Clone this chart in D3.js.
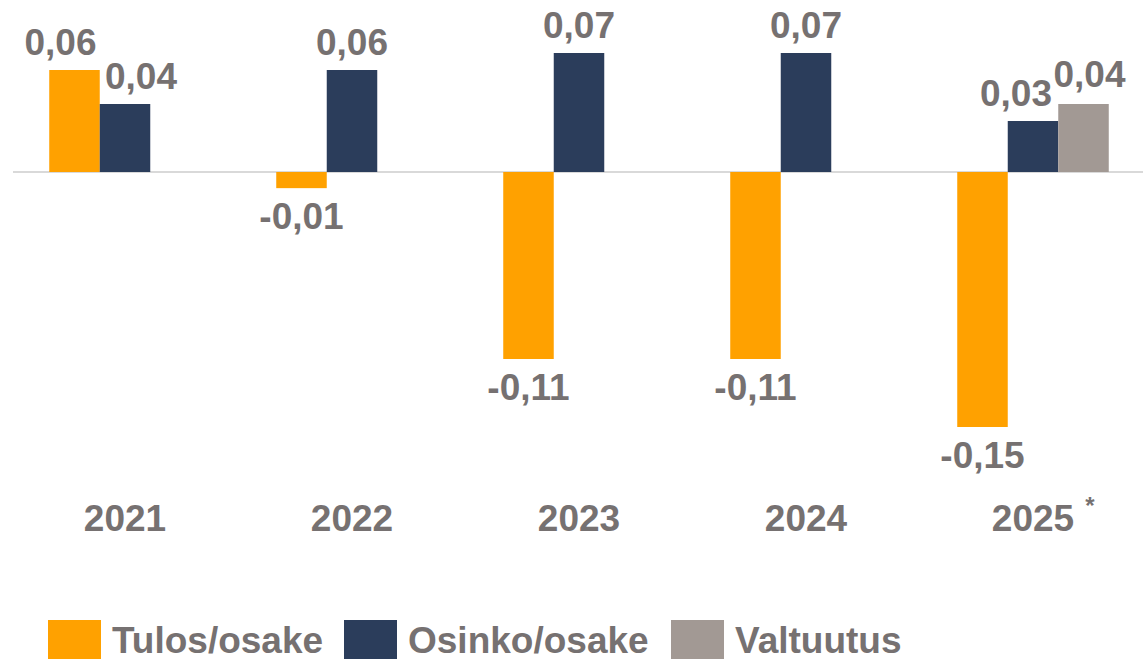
<!DOCTYPE html>
<html>
<head>
<meta charset="utf-8">
<script src="https://cdn.jsdelivr.net/npm/d3@7"></script>
<style>
  html, body { margin: 0; padding: 0; background: #ffffff; }
  #chart { width: 1143px; height: 659px; }
  text { font-family: "Liberation Sans", Arial, sans-serif; font-weight: bold; fill: #767171; }
</style>
</head>
<body>
<div id="chart"></div>
<script>
const years = ['2021', '2022', '2023', '2024', '2025'];
const seriesNames = ['Tulos/osake', 'Osinko/osake', 'Valtuutus'];
const tulos = [0.06, -0.0095, -0.11, -0.11, -0.15];
const osinko = [0.04, 0.06, 0.07, 0.07, 0.03];
const valtuutus = [null, null, null, null, 0.04];
const colors = ['#FFA100', '#2B3D5B', '#A29994'];
const footnoteYear = '2025';

const seriesValues = [tulos, osinko, valtuutus];
const fmt = v => d3.format('.2f')(v).replace('.', ',').replace('−', '-');

// labels that were pushed sideways in the original to avoid overlaps
const labelNudge = {
  '2021|Tulos/osake': [-14, 0],
  '2021|Osinko/osake': [16, 0],
  '2025|Osinko/osake': [-17, 0],
  '2025|Valtuutus': [6, -2]
};

const width = 1143;
const height = 659;

const svg = d3.select('#chart')
  .append('svg')
  .attr('width', width)
  .attr('height', height);

const x = d3.scaleBand().domain(years).range([11.5, 1146.5]);
const bw = x.bandwidth();
const barW = bw * 0.2225;
const xs = d3.scaleBand().domain(seriesNames).range([bw / 2 - 1.5 * barW, bw / 2 + 1.5 * barW]);
const y = d3.scaleLinear().domain([-0.15, 0.07]).range([427, 53]);

// zero line
svg.append('line')
  .attr('x1', 13).attr('x2', width)
  .attr('y1', y(0)).attr('y2', y(0))
  .attr('stroke', '#d9d9d9')
  .attr('stroke-width', 2);

const data = [];
seriesNames.forEach((s, si) => {
  years.forEach((yr, i) => {
    const v = seriesValues[si][i];
    if (v !== null) data.push({ year: yr, series: s, value: v, color: colors[si] });
  });
});

svg.selectAll('rect.bar')
  .data(data)
  .enter()
  .append('rect')
  .attr('class', 'bar')
  .attr('x', d => x(d.year) + xs(d.series))
  .attr('width', xs.bandwidth())
  .attr('y', d => Math.min(y(d.value), y(0)))
  .attr('height', d => Math.abs(y(d.value) - y(0)))
  .attr('fill', d => d.color);

const nudge = d => labelNudge[d.year + '|' + d.series] || [0, 0];

svg.selectAll('text.val')
  .data(data)
  .enter()
  .append('text')
  .attr('class', 'val')
  .attr('x', d => x(d.year) + xs(d.series) + xs.bandwidth() / 2 + nudge(d)[0])
  .attr('y', d => (d.value >= 0 ? y(d.value) - 15 : y(d.value) + 41) + nudge(d)[1])
  .attr('text-anchor', 'middle')
  .style('font-size', '37px')
  .text(d => fmt(d.value));

// year labels
svg.selectAll('text.year')
  .data(years)
  .enter()
  .append('text')
  .attr('class', 'year')
  .attr('x', d => x(d) + bw / 2)
  .attr('y', 531)
  .attr('text-anchor', 'middle')
  .style('font-size', '37px')
  .text(d => d);

svg.append('text')
  .attr('x', x(footnoteYear) + bw / 2 + 57)
  .attr('y', 514)
  .attr('text-anchor', 'middle')
  .style('font-size', '24px')
  .text('*');

// legend
const legendX = [48, 344, 671];
seriesNames.forEach((s, i) => {
  svg.append('rect')
    .attr('x', legendX[i])
    .attr('y', 620)
    .attr('width', 53)
    .attr('height', 39)
    .attr('fill', colors[i]);
  svg.append('text')
    .attr('x', legendX[i] + 64)
    .attr('y', 653)
    .style('font-size', '37px')
    .text(s);
});
</script>
</body>
</html>
